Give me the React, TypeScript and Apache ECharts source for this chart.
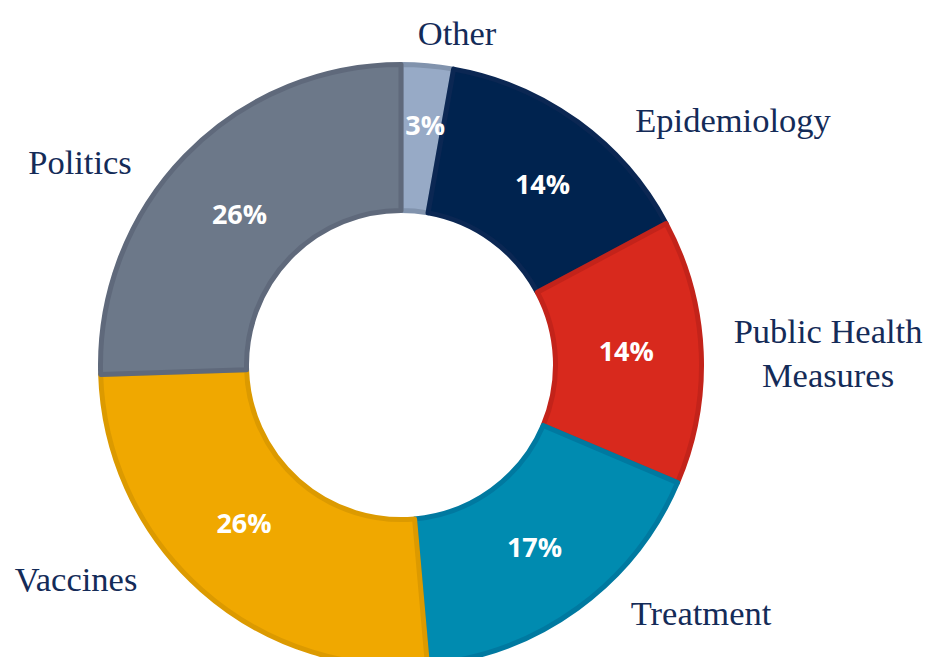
import React, { useEffect, useRef } from "react";
import * as echarts from "echarts";

const categories = ["Other", "Epidemiology", "Public Health\nMeasures", "Treatment", "Vaccines", "Politics"];
const shares = [2.8, 14.4, 14.2, 17.2, 25.9, 25.5];
const fillColors = ["#97aac6", "#00234f", "#d8291d", "#008bb0", "#f0a800", "#6c7889"];
const borderColors = ["#8193ad", "#0b2753", "#c3231a", "#0079a0", "#dc9a00", "#5f697b"];
// label anchor points (label layout only)
const nameLabelPos = [
  [457, 33],
  [733, 120],
  [828, 353],
  [701, 613],
  [76, 579],
  [80, 162],
];
// small nudges of the percentage labels
const pctLabelShift = [
  [4, -11],
  [6, 5],
  [-5, -4],
  [-2, -5],
  [-4, -15],
  [4, 9],
];

export default function App() {
  const ref = useRef<HTMLDivElement>(null);
  useEffect(() => {
    if (!ref.current) return;
    const chart = echarts.init(ref.current, null, { renderer: "svg" });
    const data = categories.map((c, i) => ({
      name: c,
      value: shares[i],
      itemStyle: { color: fillColors[i], borderColor: borderColors[i] },
    }));
    chart.setOption({
      animation: false,
      backgroundColor: "#ffffff",
      series: [
        {
          type: "pie",
          center: [401, 365],
          radius: [154.5, 300.5],
          startAngle: 90,
          clockwise: true,
          avoidLabelOverlap: false,
          silent: true,
          itemStyle: { borderWidth: 5 },
          label: {
            show: true,
            position: "inside",
            formatter: (p: any) => Math.round(p.percent) + "%",
            color: "#ffffff",
            fontFamily: "'Open Sans', sans-serif",
            fontWeight: 700,
            fontSize: 27,
          },
          labelLine: { show: false },
          labelLayout: (p: any) => ({
            dx: pctLabelShift[p.dataIndex][0],
            dy: pctLabelShift[p.dataIndex][1],
          }),
          data,
        },
        {
          type: "pie",
          center: [401, 365],
          radius: [154, 301],
          startAngle: 90,
          clockwise: true,
          avoidLabelOverlap: false,
          silent: true,
          itemStyle: { color: "rgba(0,0,0,0)", borderWidth: 0 },
          label: {
            show: true,
            position: "outside",
            formatter: "{b}",
            color: "#142b58",
            fontFamily: "'Liberation Serif', serif",
            fontSize: 34.5,
            lineHeight: 44,
            align: "center",
          },
          labelLine: { show: false },
          labelLayout: (p: any) => ({
            x: nameLabelPos[p.dataIndex][0],
            y: nameLabelPos[p.dataIndex][1],
            align: "center",
            verticalAlign: "middle",
          }),
          data: categories.map((c, i) => ({ name: c, value: shares[i] })),
        },
      ],
    });
    return () => chart.dispose();
  }, []);
  return (
    <div
      ref={ref}
      style={{ position: "fixed", left: 0, top: 0, width: 931, height: 657, background: "#fff" }}
    />
  );
}
